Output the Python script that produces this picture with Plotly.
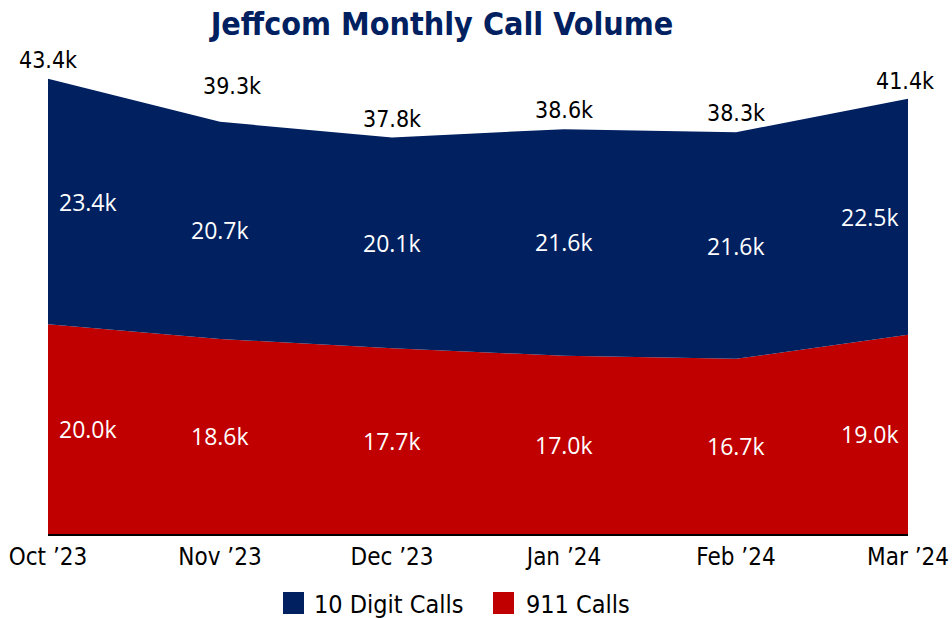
import plotly.graph_objects as go

months = ["Oct ’23", "Nov ’23", "Dec ’23", "Jan ’24", "Feb ’24", "Mar ’24"]
calls_911 = [20.0, 18.6, 17.7, 17.0, 16.7, 19.0]
calls_10digit = [23.4, 20.7, 20.1, 21.6, 21.6, 22.5]
totals = [43.4, 39.3, 37.8, 38.6, 38.3, 41.4]
series_names = ["10 Digit Calls", "911 Calls"]

NAVY = "#002060"
RED = "#C00000"
NARROW = "Liberation Sans Narrow, DejaVu Sans Condensed, Arial Narrow, sans-serif"
INNER = "Open Sans, Noto Sans, sans-serif"

L, R, T, B = 48, 44, 62, 84
W, H = 952, 618
PW, PH = W - L - R, H - T - B

def px_x(px):
    return (px - L) / PW

def px_y(py):
    return (H - B - py) / PH

fig = go.Figure()
fig.add_trace(go.Scatter(x=months, y=calls_911, stackgroup="one", mode="none",
                         fillcolor=RED, name=series_names[1], showlegend=False))
fig.add_trace(go.Scatter(x=months, y=calls_10digit, stackgroup="one", mode="none",
                         fillcolor=NAVY, name=series_names[0], showlegend=False))

n = len(months)
annotations = []
for i in range(n):
    xs = 40 if i == 0 else (-38 if i == n - 1 else 0)
    annotations.append(dict(x=months[i], y=calls_911[i] / 2, text=f"{calls_911[i]:.1f}k",
                            showarrow=False, xshift=xs,
                            font=dict(family=INNER, size=23, color="white")))
    annotations.append(dict(x=months[i], y=calls_911[i] + calls_10digit[i] / 2,
                            text=f"{calls_10digit[i]:.1f}k", showarrow=False, xshift=xs,
                            font=dict(family=INNER, size=23, color="white")))
    ys = 36 if i == 1 else 19
    annotations.append(dict(x=months[i], y=totals[i], text=f"{totals[i]:.1f}k",
                            showarrow=False, yshift=ys,
                            xshift=12 if i == 1 else (-3 if i == n - 1 else 0),
                            font=dict(family=NARROW, size=23, color="black")))

# manual legend
shapes = []
legend_items = [(series_names[0], NAVY, 283, 312), (series_names[1], RED, 493, 524)]
for name, col, sq_x, tx in legend_items:
    shapes.append(dict(type="rect", xref="paper", yref="paper",
                       x0=px_x(sq_x), x1=px_x(sq_x + 21), y0=px_y(614), y1=px_y(592),
                       fillcolor=col, line=dict(width=0)))
    annotations.append(dict(xref="paper", yref="paper", x=px_x(tx), y=px_y(604),
                            xanchor="left", yanchor="middle", text=name, showarrow=False,
                            font=dict(family=NARROW, size=25, color="black")))

fig.update_layout(
    width=W, height=H,
    margin=dict(l=L, r=R, t=T, b=B),
    paper_bgcolor="white", plot_bgcolor="white",
    title=dict(text="<b>Jeffcom Monthly Call Volume</b>", x=442 / W, xanchor="center",
               y=1 - 24 / H, yanchor="middle", xref="container", yref="container",
               font=dict(family=NARROW, size=32, color=NAVY)),
    xaxis=dict(type="category", range=[0, n - 1], showgrid=False, showline=True,
               linecolor="black", linewidth=2, ticks="", zeroline=False, automargin=False,
               tickfont=dict(family=NARROW, size=24, color="black")),
    yaxis=dict(range=[0, 45], visible=False, showgrid=False, zeroline=False, automargin=False),
    annotations=annotations,
    shapes=shapes,
    showlegend=False,
)

fig.write_html("out.html", config={"displayModeBar": False},
               post_script="document.body.style.margin='0';document.body.style.overflow='hidden';")
